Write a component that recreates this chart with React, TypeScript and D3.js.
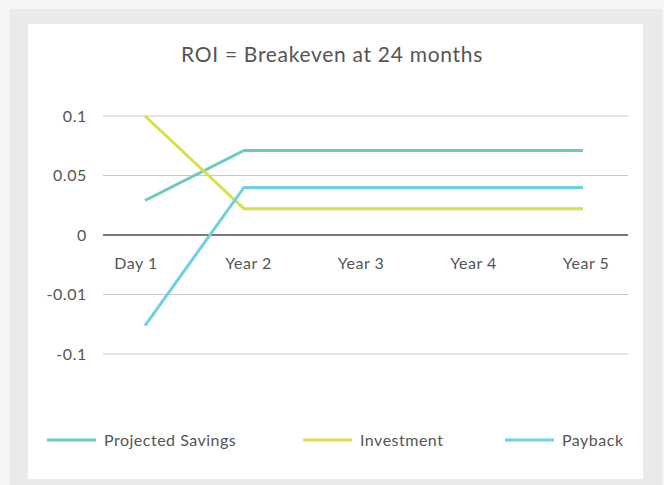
import React from "react";
import * as d3 from "d3";

const categories = ["Day 1", "Year 2", "Year 3", "Year 4", "Year 5"];
const yTicks = [0.1, 0.05, 0, -0.01, -0.1];
const yTickLabels = ["0.1", "0.05", "0", "-0.01", "-0.1"];
const projectedSavings = [0.029, 0.071, 0.071, 0.071, 0.071];
const investment = [0.1, 0.022, 0.022, 0.022, 0.022];
const payback = [-0.057, 0.04, 0.04, 0.04, 0.04];

const seriesList = [
  { name: "Projected Savings", values: projectedSavings, color: "#6dcabd" },
  { name: "Investment", values: investment, color: "#d5e04b" },
  { name: "Payback", values: payback, color: "#6fd0e2" },
];

const W = 664;
const H = 485;
const FONT = "Lato, 'Open Sans', sans-serif";

export default function App() {
  // evenly spaced, non-linear value axis (as in the original)
  const y = d3
    .scaleLinear()
    .domain([-0.1, -0.01, 0, 0.05, 0.1])
    .range([354, 294.5, 235, 175.5, 116]);
  const xLabel = d3.scalePoint<string>().domain(categories).range([136, 586]);
  const xLine = d3.scaleLinear().domain([0, 1, 4]).range([145, 244, 583]);
  const line = d3
    .line<number>()
    .x((_, i) => xLine(i))
    .y((d) => y(d));

  const legendX = [47, 303, 505];

  return (
    <svg
      width={W}
      height={H}
      style={{ position: "absolute", left: 0, top: 0, display: "block" }}
    >
      <rect x={0} y={0} width={W} height={H} fill="#f4f5f5" />
      <rect x={10} y={9} width={652} height={476} fill="#e9eaea" />
      <rect x={28} y={24} width={615} height={455} fill="#ffffff" />

      <text
        x={332}
        y={62}
        textAnchor="middle"
        fontFamily={FONT}
        fontSize={21}
        letterSpacing={0.7}
        fill="#555"
      >
        ROI = Breakeven at 24 months
      </text>

      {yTicks.map((t, i) => (
        <g key={i}>
          <line
            x1={103}
            x2={628}
            y1={y(t)}
            y2={y(t)}
            stroke={t === 0 ? "#7a7a7a" : "#c9c9c9"}
            strokeWidth={t === 0 ? 2 : 1.2}
          />
          <text
            x={87}
            y={y(t)}
            dy="0.35em"
            textAnchor="end"
            fontFamily={FONT}
            fontSize={16}
            letterSpacing={0.6}
            fill="#555"
          >
            {yTickLabels[i]}
          </text>
        </g>
      ))}

      {categories.map((c) => (
        <text
          key={c}
          x={xLabel(c)}
          y={269}
          textAnchor="middle"
          fontFamily={FONT}
          fontSize={16}
          letterSpacing={0.5}
          fill="#555"
        >
          {c}
        </text>
      ))}

      {seriesList.map((s) => (
        <path
          key={s.name}
          d={line(s.values) || ""}
          fill="none"
          stroke={s.color}
          strokeWidth={3}
          strokeLinejoin="miter"
        />
      ))}

      {seriesList.map((s, i) => (
        <g key={s.name}>
          <line
            x1={legendX[i]}
            x2={legendX[i] + 49}
            y1={440}
            y2={440}
            stroke={s.color}
            strokeWidth={3}
          />
          <text
            x={legendX[i] + 57}
            y={446}
            fontFamily={FONT}
            fontSize={16}
            letterSpacing={0.5}
            fill="#555"
          >
            {s.name}
          </text>
        </g>
      ))}
    </svg>
  );
}
